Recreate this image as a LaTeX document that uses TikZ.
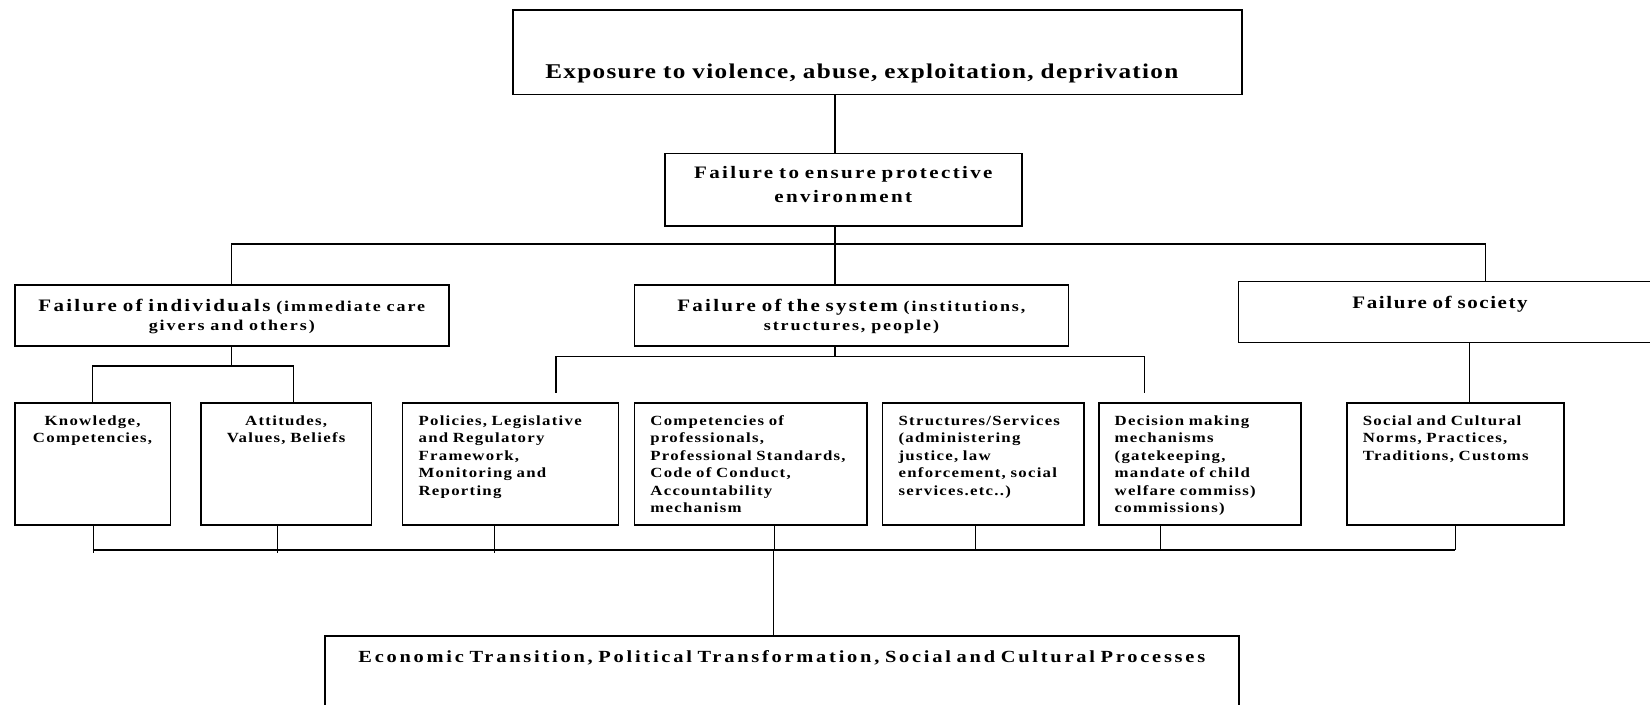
\documentclass[tikz,border=0pt]{standalone}
\usepackage{fontspec}
\setmainfont{Liberation Serif}
\newfontfamily\titlefont{Liberation Serif}[FakeStretch=1.2,LetterSpace=6.2]
\newfontfamily\headfont{Liberation Serif}[FakeStretch=1.2,LetterSpace=13]
\newfontfamily\cellfont{Liberation Serif}[FakeStretch=1.2,LetterSpace=9]

\tikzset{
  box/.style={draw, line width=0.8pt, inner xsep=8pt, inner ysep=0pt, anchor=north west},
  link/.style={line width=0.6pt},
  head/.style={font=\headfont\bfseries\fontsize{8.75}{9.65}\selectfont, align=center, inner xsep=4pt},
  cell/.style={font=\cellfont\bfseries\fontsize{7}{8.75}\selectfont, text height=11pt, text depth=50pt},
}
\newcommand{\paren}[1]{{\fontsize{7.5}{9}\selectfont #1}}

\begin{document}
\begin{tikzpicture}[x=0.5pt,y=0.5pt,yscale=-1,xscale=1]
\useasboundingbox (0,0) rectangle (1650,705);

% top of the tree
\node[box, align=left, inner xsep=16.25pt, text width=332pt, text height=34.25pt, text depth=7.85pt,
  font=\titlefont\bfseries\fontsize{10.5}{12}\selectfont] (expo) at (512,9.5)
  {Exposure to violence, abuse, exploitation, deprivation};
\node[box, head, font=\headfont\bfseries\fontsize{8.75}{12}\selectfont\addfontfeature{LetterSpace=13.6},
  text width=170.5pt, text height=12.35pt, text depth=23.95pt] (ensure) at (664,152.6)
  {Failure to ensure protective\\environment};

% three failures
\node[box, head, text width=209pt, text height=13.35pt, text depth=17.15pt] (indiv) at (14,284)
  {Failure of individuals \paren{(immediate care}\\\paren{givers and others)}};
\node[box, head, text width=209pt, text height=13.35pt, text depth=17.15pt] (system) at (633.6,284)
  {Failure of the system \paren{(institutions,}\\\paren{structures, people)}};
\node[box, head, font=\headfont\bfseries\fontsize{8.75}{9.65}\selectfont\addfontfeature{LetterSpace=9},
  text width=200.25pt, text height=13.3pt, text depth=17.2pt] (society) at (1237.5,280.7)
  {Failure of society\kern6.5pt\mbox{}};

% row of causes
\node[box, cell, align=center, inner xsep=4pt, text width=69.75pt] (know) at (14,402.5)
  {Knowledge,\\Competencies,};
\node[box, cell, align=center, inner xsep=4pt, text width=77.35pt] (att) at (200,402.5)
  {Attitudes,\\Values, Beliefs};
\node[box, cell, align=left, text width=91.95pt] (pol) at (401.8,402.5)
  {Policies, Legislative\\and Regulatory\\Framework,\\Monitoring and\\Reporting};
\node[box, cell, align=left, text width=100.2pt] (comp) at (633.6,402.5)
  {Competencies of\\professionals,\\Professional Standards,\\Code of Conduct,\\Accountability\\mechanism};
\node[box, cell, align=left, text width=84.6pt] (struct) at (881.8,402.5)
  {Structures/Services\\(administering\\justice, law\\enforcement, social\\services.etc..)};
\node[box, cell, align=left, text width=85.05pt] (dec) at (1097.9,402.5)
  {Decision making\\mechanisms\\(gatekeeping,\\mandate of child\\welfare commiss)\\commissions)};
\node[box, cell, align=left, text width=92.6pt] (norms) at (1346,402.5)
  {Social and Cultural\\Norms, Practices,\\Traditions, Customs};

% root causes
\node[box, head, font=\headfont\bfseries\fontsize{8.5}{10}\selectfont\addfontfeature{LetterSpace=16.3},
  text width=449pt, text height=13.35pt, text depth=30pt] (econ) at (324,635)
  {Economic Transition, Political Transformation, Social and Cultural Processes};

% junction points
\coordinate (spine) at (835,0);
\coordinate (topR) at (1485.4,244);
\coordinate (ibR) at (293.6,366);
\coordinate (sb) at (835,356.7);
\coordinate (sbL) at (556,393);
\coordinate (sbR) at (1144.6,393);
\coordinate (nx) at (1469.6,0);
\coordinate (bbL) at (92.6,550);
\coordinate (bbR) at (1454.7,550);
\coordinate (bbT) at (0,553);
\coordinate (ex) at (773.7,0);

% connectors
\draw[link] (expo.south -| spine) -- (ensure.north -| spine);
\draw[link] (ensure.south -| spine) -- (system.north -| spine);
\draw[link] (indiv.north) |- (topR) -- (topR |- society.north);
\draw[link] (indiv.south) -- (indiv.south |- ibR);
\draw[link] (know.north) |- (ibR) -- (ibR |- att.north);
\draw[link] (system.south -| sb) -- (sb);
\draw[link] (sbL) |- (sb) -| (sbR);
\draw[link] (society.south -| nx) -- (norms.north -| nx);

\draw[line width=0.8pt] (bbL) -- (bbR);
\foreach \n/\dx in {know/0.55, att/-4.3, pol/-8}
  \draw[link] ([xshift=\dx pt]\n.south) -- ([xshift=\dx pt]\n.south |- bbT);
\foreach \n/\dx in {comp/11.95, struct/-3.85, dec/-19.5, norms/0.05}
  \draw[link] ([xshift=\dx pt]\n.south) -- ([xshift=\dx pt]\n.south |- bbL);
\draw[link] (bbL -| ex) -- (econ.north -| ex);

\end{tikzpicture}
\end{document}
